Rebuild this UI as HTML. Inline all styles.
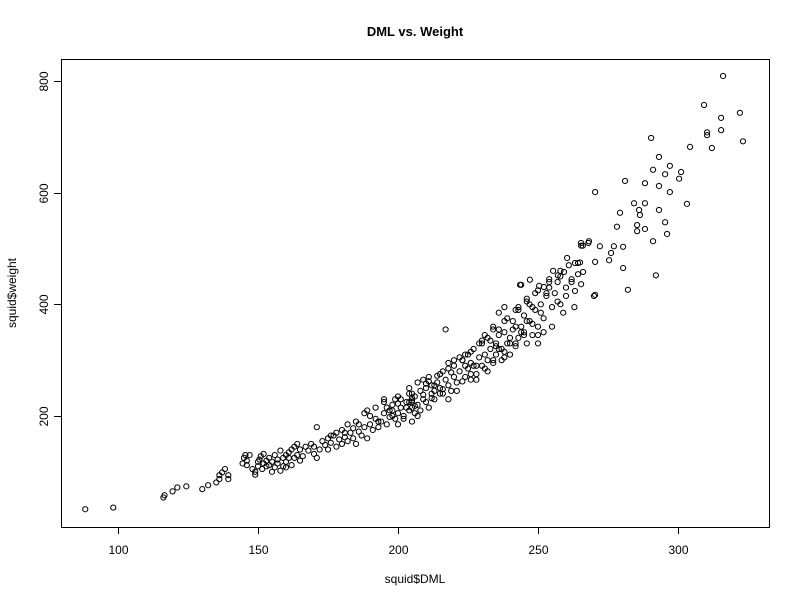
<!DOCTYPE html>
<html><head><meta charset="utf-8"><style>
body{margin:0;background:#fff;}
svg text{font-family:"Liberation Sans",Arial,sans-serif;}
</style></head><body>
<svg id="chart" width="800" height="600" xmlns="http://www.w3.org/2000/svg">
<rect width="800" height="600" fill="#fff"/>
<text x="415" y="36" text-anchor="middle" font-size="13" font-weight="bold">DML vs. Weight</text>
<rect x="61.5" y="59.5" width="708" height="468" fill="none" stroke="#000"/>
<g id="xaxis"></g>
<g id="yaxis"></g>
<text x="415" y="583" text-anchor="middle" font-size="12">squid$DML</text>
<text transform="translate(16,293) rotate(-90)" text-anchor="middle" font-size="12">squid$weight</text>
<g id="points"></g>
</svg>
<script>
const xTicks=[100,150,200,250,300];
const yTicks=[200,400,600,800];
const dml=[88.3,98.3,116.2,116.6,119.5,121.2,124.4,130.1,132.2,135.1,136.2,137.2,138.2,136.2,139.4,139.4,
144.5,145,145.5,146,147,148,149,150,150,150.5,151,151.5,152,153,153,154,155,155,156,156,157,158,159,159,160,160,161,162,162,163,164,164,165,165,
152,154,157,158,160,161,163,146,149,
166,167,168,169,170,170,171,171,172,173,174,175,175,176,177,178,178,179,180,180,181,182,182,183,184,184,185,185,186,187,188,188,189,190,190,191,192,192,193,194,195,195,196,197,197,198,199,199,200,200,201,202,203,204,204,205,205,205,206,206,207,207,208,208,209,210,210,211,212,212,213,214,215,215,216,217,218,218,219,220,220,221,222,217,223,224,225,225,226,226,227,227,228,229,230,230,231,231,232,232,233,234,234,235,235,236,236,237,237,238,238,239,240,240,241,241,242,243,243,244,244,245,245,246,246,247,247,248,249,249,250,250,251,252,253,254,254,255,256,257,258,259,260,261,262,263,265,266,268,270,
176,181,186,189,193,196,198,201,203,204,205,205,206,209,211,213,219,223,228,233,238,242,248,252,
195,198,200,202,204,207,209,211,213,215,216,218,220,221,223,224,226,228,229,231,232,234,235,236,238,239,240,242,243,245,246,248,250,251,253,255,257,258,260,262,
200,205,210,214,218,222,226,230,234,238,242,246,250,254,258,212,216,224,236,244,
316.1,309.3,322.1,315.4,315.4,310.4,310.4,323.2,290.4,304.3,312.1,293.2,291.1,297.1,295.4,301.1,300.4,281.1,288.2,293.2,270.4,297.1,284.3,288.2,303.2,279.3,286.1,286.4,293.2,295.4,278.2,285.4,285.4,288.2,296.1,291.1,265.4,265.4,268.2,272.1,277.1,280.4,276.1,275.4,270.4,260.4,263.2,264.3,280.4,292.1,282.1,255.4,257.1,259.3,264.3,266.1,247.1,243.6,250.4,252.1,265.4,270.4,263.2];
const weight=[33,36,54,58,65,72,74,69,76,81,87,99,105,94,94,87,
115,125,130,112,130,105,100,110,118,122,128,105,115,120,110,125,100,118,108,130,115,102,110,125,118,130,135,112,140,125,130,150,120,140,
132,112,122,138,108,125,145,120,95,
128,145,138,150,132,145,125,180,140,155,148,160,140,152,165,145,170,158,150,175,162,155,185,170,160,178,150,190,172,165,180,205,160,185,200,175,195,215,180,190,205,225,185,210,198,220,195,230,205,185,215,200,225,210,240,190,215,225,205,235,220,260,245,210,230,250,225,270,240,255,230,260,250,275,240,265,285,255,245,270,290,260,280,355,300,270,285,310,265,295,320,290,275,305,330,290,345,310,280,300,320,360,295,330,310,385,345,320,300,350,395,330,340,310,370,355,325,395,340,360,435,380,350,330,410,370,400,345,390,420,360,330,400,375,415,430,445,395,420,405,450,385,430,470,440,395,475,505,510,415,
165,170,185,210,190,215,200,230,215,225,232,228,218,238,262,245,278,300,290,335,305,330,365,350,
230,210,235,195,250,200,265,215,255,240,280,230,300,245,262,310,275,265,330,285,340,300,325,355,315,375,330,360,390,345,370,395,345,385,420,360,440,400,415,445,
222,240,258,272,295,305,315,335,355,370,390,405,425,440,460,232,248,290,320,350,
809,757,743,734,712,703,708,692,698,682,680,664,641,648,633,637,625,621,617,612,601,601,581,581,580,564,569,560,569,547,539,542,531,535,526,513,510,505,513,504,504,503,492,479,476,483,474,474,465,452,426,460,452,458,454,458,444,435,433,431,436,417,424];
const X=v=>118+(v-100)*2.8, Y=v=>416-(v-200)*0.55833;
const NS="http://www.w3.org/2000/svg";
function mk(tag,attrs,parent,txt){const e=document.createElementNS(NS,tag);for(const k in attrs)e.setAttribute(k,attrs[k]);if(txt!==undefined)e.textContent=txt;parent.appendChild(e);return e;}
const xa=document.getElementById('xaxis'), ya=document.getElementById('yaxis'), pg=document.getElementById('points');
mk('line',{x1:X(xTicks[0]),x2:X(xTicks[xTicks.length-1]),y1:527.5,y2:527.5,stroke:'#000'},xa);
xTicks.forEach(t=>{const x=Math.round(X(t))+0.5;mk('line',{x1:x,x2:x,y1:527,y2:534,stroke:'#000'},xa);
const l=mk('text',{x:x,y:554,'text-anchor':'middle','font-size':12},xa,String(t));

});
mk('line',{x1:61.5,x2:61.5,y1:Y(yTicks[0]),y2:Y(yTicks[yTicks.length-1]),stroke:'#000'},ya);
yTicks.forEach(t=>{const y=Math.round(Y(t))+0.5;mk('line',{x1:54,x2:61,y1:y,y2:y,stroke:'#000'},ya);
const l=mk('text',{transform:`translate(48,${y}) rotate(-90)`,'text-anchor':'middle','font-size':12},ya,String(t));

});
for(let i=0;i<dml.length;i++){
const c=mk('circle',{cx:X(dml[i]),cy:Y(weight[i]),r:2.6,fill:'none',stroke:'#000','stroke-width':1},pg);


}
</script>
</body></html>
